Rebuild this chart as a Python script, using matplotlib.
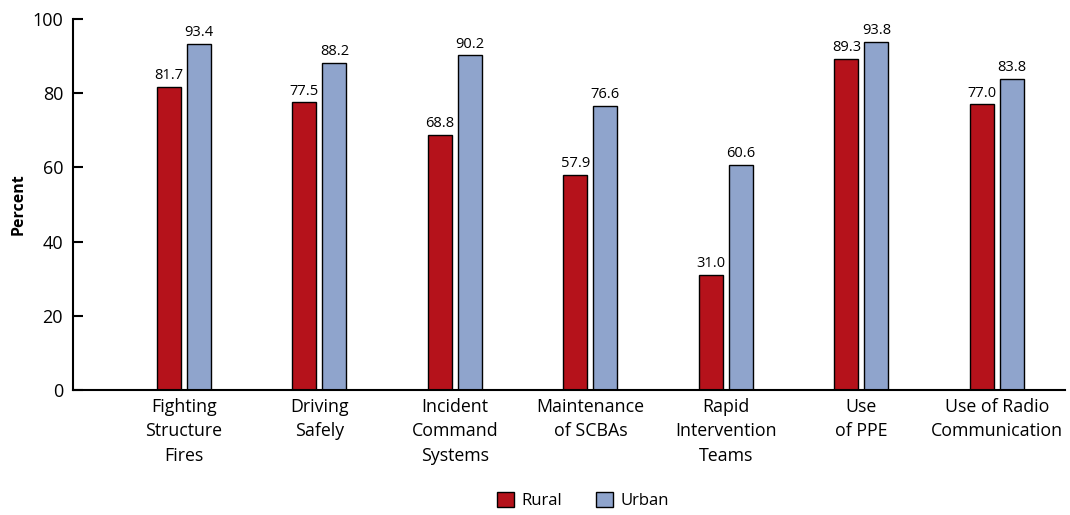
import numpy as np
import matplotlib.pyplot as plt

plt.rcParams['font.family'] = ['Open Sans', 'DejaVu Sans']

# data
categories = ["Fighting\nStructure\nFires", "Driving\nSafely", "Incident\nCommand\nSystems",
              "Maintenance\nof SCBAs", "Rapid\nIntervention\nTeams", "Use\nof PPE",
              "Use of Radio\nCommunication"]
rural = [81.7, 77.5, 68.8, 57.9, 31.0, 89.3, 77.0]
urban = [93.4, 88.2, 90.2, 76.6, 60.6, 93.8, 83.8]

red = "#b5121b"
blue = "#8fa4cc"

fig = plt.figure(figsize=(10.7, 5.15), dpi=100)
ax = fig.add_axes([0.068, 0.243, 0.927, 0.72])

x = np.arange(len(categories))
w = 0.177
off = 0.111
b1 = ax.bar(x - off, rural, w, color=red, edgecolor="black", linewidth=1, label="Rural")
b2 = ax.bar(x + off, urban, w, color=blue, edgecolor="black", linewidth=1, label="Urban")

for bars, vals in ((b1, rural), (b2, urban)):
    for b, v in zip(bars, vals):
        ax.text(b.get_x() + b.get_width() / 2, v + 1.0, "%.1f" % v,
                ha="center", va="bottom", fontsize=10.5)

ax.set_xlim(-0.82, 6.5)
ax.set_ylim(0, 100)
ax.set_yticks([0, 20, 40, 60, 80, 100])
ax.tick_params(axis="y", direction="in", length=7, width=1.5, labelsize=13, pad=7)
ax.set_xticks(x)
ax.set_xticklabels(categories, fontsize=12.8, linespacing=1.45)
ax.tick_params(axis="x", length=0, pad=6)
ax.spines["top"].set_visible(False)
ax.spines["right"].set_visible(False)
ax.spines["left"].set_linewidth(1.5)
ax.spines["bottom"].set_linewidth(1.5)
ax.set_ylabel("Percent", fontsize=11.5, fontweight="bold")
ax.yaxis.set_label_coords(-0.047, 0.5)

fig.legend(handles=[b1, b2], loc="lower center", bbox_to_anchor=(0.545, -0.017), ncol=2,
           frameon=False, fontsize=12, handlelength=1.0, handleheight=1.0, columnspacing=2.0,
           handletextpad=0.5)

plt.savefig("out.png", dpi=100)
